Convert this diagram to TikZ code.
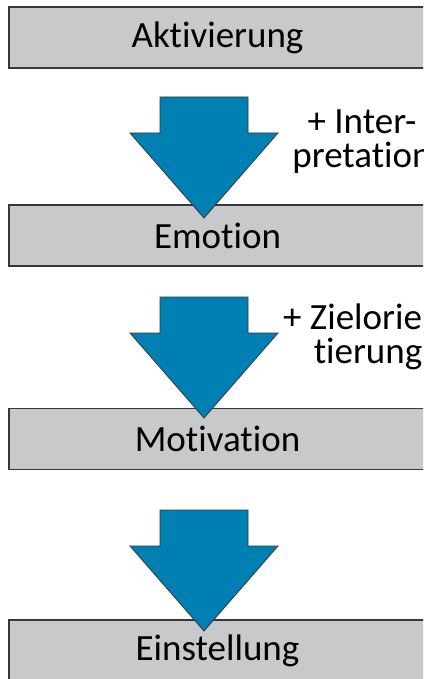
\documentclass[tikz,border=0pt]{standalone}
\usepackage{fontspec}
\setmainfont[Ligatures={NoCommon}]{Carlito}
\usepackage{tikz}
\usetikzlibrary{calc}

\definecolor{kastengrau}{RGB}{200,201,203}
\definecolor{pfeilblau}{RGB}{0,128,178}
\definecolor{randgrau}{RGB}{55,55,55}

\tikzset{
  stufe/.style={draw=randgrau, line width=1.4pt, fill=kastengrau, minimum width=417pt, minimum height=61pt, inner sep=0pt, font=\fontsize{37}{34}\selectfont},
  pfeil/.style={draw=randgrau, line width=0.8pt, fill=pfeilblau, line join=miter},
  zusatz/.style={align=center, inner sep=0pt, font=\fontsize{37}{34}\selectfont}
}

\begin{document}
\begin{tikzpicture}[x=1pt,y=-1pt]
\useasboundingbox (0,0) rectangle (423,679);
\clip (0,0) rectangle (423,679);
% Stufen
\node[stufe] (akt) at (217.5,37.5) {Aktivierung};
\node[stufe] (emo) at (217.5,235.5) {Emotion};
\node[stufe] (mot) at (217.5,439) {Motivation};
\node[stufe] (ein) at (217.5,650.5) {Einstellung};
% Blockpfeile
\foreach \t in {97,297,510}
  \draw[pfeil] (160,\t) -- (248,\t) -- (248,\t+36) -- (278,\t+36) -- (204,\t+121) -- (130,\t+36) -- (160,\t+36) -- cycle;
% Zusaetze
\node[zusatz] (interp) at (362,141.5) {+ Inter-\\pretation};
\node[zusatz] (ziel) at (368,337) {+ Zielorien-\\tierung};
\end{tikzpicture}
\end{document}
